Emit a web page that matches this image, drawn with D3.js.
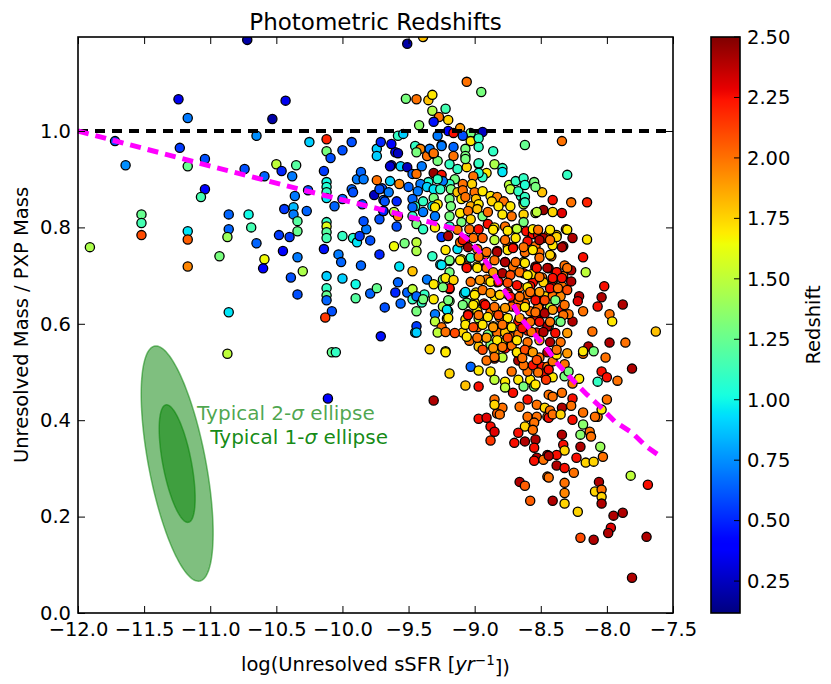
<!DOCTYPE html>
<html>
<head>
<meta charset="utf-8">
<script src="https://cdn.jsdelivr.net/npm/d3@7"></script>
<style>
body { margin: 0; background: #fff; }
svg text { font-family: "DejaVu Sans", sans-serif; }
</style>
</head>
<body>
<script>
// ---- data ----
// log(unresolved sSFR), one value per galaxy
var sSFR = [
  // sparse left part
  -10.72,-9.51,-11.24,-9.52,-9.44,-11.17,-10.43,-10.53,-11.72,-11.64,
  -11.23,-11.17,-11.04,-11.04,-11.07,-11.52,-11.52,-11.52,-11.91,-11.17,
  -11.17,-11.17,-10.86,-10.86,-10.87,-10.93,-10.86,-10.71,-10.69,-10.65,
  -10.59,-10.6,-10.65,-10.74,-10.59,-10.5,-10.46,-10.38,-10.35,-10.36,
  -10.26,-10.44,-10.37,-10.37,-10.34,-10.34,-10.48,-10.4,-10.45,-10.34,
  -10.3,-10.39,-10.34,-10.27,-10.25,-10.12,-10.12,-10.09,-10.14,-10.12,
  -10.12,-10.12,-10.12,-10.06,-10.0,-10.0,-9.93,-10.12,-10.12,-10.12,
  -10.12,-10.14,-10.03,-10.01,-10.0,-10.12,-10.12,-10.12,-10.12,-10.08,
  -10.13,-10.0,-9.92,-9.89,-9.86,-9.9,-9.9,-9.79,-9.74,-9.72,
  -9.68,-9.71,-10.87,-10.08,-10.05,-10.11,-9.45,-9.93,-9.92,-9.89,
  -9.86,-9.84,-9.85,-9.87,-9.82,-9.84,-9.79,-9.61,-9.74,-9.76,
  -9.7,-9.65,-9.69,-9.72,-9.69,-9.63,-9.6,-9.74,-9.74,-9.63,
  -9.59,
  // top of the cloud
  -9.39,-9.06,-8.95,-9.35,-9.32,-9.32,-9.22,-9.27,-9.2,-9.31,
  -9.42,-9.11,-9.2,-9.16,-9.03,-8.94,-9.09,-9.58,-9.03,-8.97,
  -8.97,-8.86,-8.62,-8.34,-8.3,-9.25,-9.16,-9.07,-9.07,-9.16,
  -9.45,-9.41,-9.44,-9.36,-9.31,-9.34,-9.64,-9.56,-9.51,-9.47,
  -9.44,-9.4,-9.31,-9.25,-9.28,-9.19,-9.13,-9.06,-8.97,-8.91,
  -8.85,-8.79,-8.79,-8.74,-8.69,-8.63,-8.55,-8.49,-8.65,-8.63,
  -8.41,-8.27,-8.15,-8.54,-8.48,-8.41,-8.34,-8.31,-8.15,-8.26,
  -8.33,-8.38,-8.18,-8.16,-8.02,-8.04,-7.88,-7.98,-8.21,-8.22,
  // upper core
  -9.28,-9.54,-9.71,-9.58,-9.25,-9.31,-9.07,-8.97,-8.94,-8.97,
  -9.01,-9.02,-9.09,-9.15,-9.19,-9.24,-9.28,-9.35,-9.41,-9.57,
  -9.64,-9.72,-9.5,-9.43,-9.36,-9.31,-9.26,-9.18,-9.13,-9.09,
  -9.0,-8.94,-8.88,-8.83,-8.78,-8.73,-8.67,-8.62,-8.54,-9.59,
  -9.68,-9.47,-9.45,-9.39,-9.31,-9.28,-9.32,-9.19,-9.18,-9.1,
  -9.07,-8.99,-9.03,-8.97,-8.87,-8.82,-8.73,-8.63,-8.53,-8.63,
  -9.69,-9.61,-9.58,-9.47,-9.47,-9.39,-9.3,-9.3,-9.19,-9.11,
  -9.05,-8.98,-8.94,-8.9,-8.79,-8.72,-9.44,-9.39,-9.3,-9.19,
  -9.1,-9.04,-8.97,-9.03,-8.9,-8.85,-8.77,-8.69,-8.61,-8.56,
  -9.53,-9.44,-9.44,-9.25,-9.2,-9.13,-9.07,-9.05,-9.11,-8.98,
  -8.92,-8.83,-8.75,-8.71,-8.6,-8.54,-9.32,-9.26,-9.19,-9.1,
  -9.06,-8.98,-8.91,-8.77,-8.71,-8.63,-8.54,-9.57,-9.47,-9.36,
  -9.31,-9.24,-9.19,-9.07,-8.99,-8.91,-8.83,-8.75,-8.66,-8.56,
  -9.58,-9.6,-9.51,-9.47,-9.38,
  // right of the core
  -8.62,-8.62,-8.63,-8.56,-8.52,-8.44,-8.48,-8.42,-8.41,-8.51,
  -8.42,-8.62,-8.32,-8.27,-8.44,-8.38,-8.54,-8.63,-8.57,-8.49,
  -8.41,-8.33,-8.27,-8.41,-8.58,-8.48,-8.41,-8.34,-8.57,-8.47,
  -8.41,-8.35,-8.07,-7.96,-8.18,-8.34,-8.43,-8.51,-8.62,-8.56,
  -8.48,-8.37,-8.26,-8.29,-8.44,-8.53,
  // lower core
  -9.56,-9.47,-9.44,-9.4,-9.44,-9.39,-9.31,-9.3,-9.24,-9.19,
  -9.2,-9.3,-9.21,-9.25,-9.28,-9.44,-9.44,-9.34,-9.22,-9.19,
  -9.31,-9.08,-9.06,-9.0,-8.93,-9.05,-8.98,-9.07,-8.97,-9.09,
  -8.98,-9.04,-8.97,-8.97,-8.9,-8.88,-8.85,-8.88,-8.83,-8.81,
  -8.86,-8.83,-8.77,-8.77,-8.79,-8.77,-8.79,-8.85,-8.91,-8.85,
  -8.67,-8.68,-8.72,-9.03,-8.97,-9.07,-8.97,-8.88,-8.85,-8.77,
  -8.77,-8.72,-8.67,-8.71,-8.63,-8.58,-8.55,-8.6,-8.56,-8.49,
  -8.48,-8.51,-8.58,-8.63,-8.72,-8.67,-8.6,-8.53,-8.62,-8.67,
  -8.58,-8.67,-8.6,-8.75,-8.72,-8.52,-8.45,-8.85,-8.79,-8.83,
  -8.85,-8.66,-8.6,-8.53,-8.47,-8.6,-8.53,-8.45,-8.55,-8.62,
  -8.56,-8.97,-8.91,-8.88,-8.85,-8.88,-8.67,-8.7,-8.62,-8.54,
  -8.55,-8.53,-8.55,-8.45,-8.48,
  // bottom right tail
  -8.81,-8.43,-8.44,-8.41,-8.44,-8.41,-8.34,-8.35,-8.26,-8.27,
  -8.26,-8.34,-8.33,-8.32,-8.38,-8.44,-8.38,-8.32,-8.25,-8.2,
  -8.2,-8.13,-8.12,-8.16,-8.1,-8.05,-8.03,-8.23,-8.18,-8.07,
  -8.0,-8.04,-8.09,-8.18,-8.26,-8.21,-8.34,-8.32,-8.41,-8.46,
  -8.54,-8.52,-8.45,-8.44,-8.41,-8.38,-8.32,-8.29,-8.18,-8.14,
  -8.1,-8.01,-8.04,-8.07,-8.0,-7.92,-7.98,-8.11,-8.18,-7.86,
  -7.81,-7.63,-8.45,-8.44,-8.32,-8.32,-8.41,-8.58,-8.32,-8.66,
  -8.62,-8.22,-8.06,-8.09,-8.04,-8.04,-8.04,-7.82,-7.69,-7.95,
  -7.88,-7.97,-7.99,-8.2,-8.1,-7.7,-7.81,
  // densest part of the core
  -9.13,-8.86,-8.75,-8.68,-8.52,-8.43,-8.38,-8.3,-9.09,-9.01,
  -8.94,-8.85,-8.77,-8.69,-8.51,-8.43,-8.34,-9.22,-8.91,-8.83,
  -8.75,-8.71,-8.63,-8.56,-8.43,-8.51,-9.19,-9.11,-9.03,-8.97,
  -8.85,-8.77,-8.69,-8.62,-8.53,-8.45,-8.38,-8.3,-9.25,-9.19,
  -9.06,-8.98,-8.91,-8.86,-8.79,-8.73,-8.66,-8.6,-8.51,-8.41,
  -8.34,-9.22,-9.16,-9.03,-8.96,-8.88,-8.82,-8.75,-8.68,-8.6,
  -8.58,-8.51,-8.43,-8.37,-8.3,-9.19,-9.24,-9.07,-9.0,-8.94,
  -8.88,-8.81,-8.73,-8.66,-8.54,-8.47,-8.39,-8.32,-9.2,-9.09,
  -9.01,-8.92,-8.85,-8.77,-8.68,-8.62,-8.54,-8.47,-8.41,-8.33,
  -9.21,-9.2,-9.05,-8.97,-8.9,-8.82,-8.75,-8.66,-8.58,-8.51,
  -8.43,-8.35,-9.07,-9.01,-8.94,-8.86,-8.79,-8.72,-8.64,-8.57,
  -8.48,-8.39,-8.3,-9.22,-9.15,-9.06,-8.98,-8.91,-8.83,-8.75,
  -8.68,-8.6,-8.51,-8.43,-8.35,-9.22,-8.94,-8.86,-8.79,-8.85,
  -8.68,-8.62,-8.56,-8.45,-8.38,-8.3,-8.64,-8.53
];

// unresolved mass / PXP mass
var massRatio = [
  1.189,1.181,1.066,1.067,1.066,1.027,1.063,1.025,0.979,0.929,
  0.965,0.927,0.942,0.879,0.863,0.827,0.809,0.784,0.759,0.792,
  0.775,0.719,0.827,0.796,0.78,0.74,0.624,0.827,0.8,0.767,
  0.734,0.715,0.99,0.921,0.906,0.931,0.917,0.906,0.929,0.865,
  0.877,0.838,0.842,0.827,0.813,0.792,0.784,0.78,0.751,0.738,
  0.709,0.696,0.661,0.834,0.977,0.983,0.958,0.944,0.917,0.894,
  0.884,0.873,0.861,0.844,0.859,0.96,0.977,0.811,0.802,0.79,
  0.778,0.755,0.744,0.728,0.694,0.699,0.674,0.659,0.649,0.626,
  0.613,0.782,0.778,0.769,0.721,0.682,0.653,0.663,0.674,0.744,
  0.634,0.574,0.538,0.541,0.541,0.445,0.582,0.879,0.873,0.9,
  0.915,0.9,0.848,0.782,0.796,0.813,0.773,0.761,0.898,0.867,
  0.881,0.873,0.857,0.817,0.834,0.929,0.956,0.963,0.948,0.973,
  0.802,
  1.195,1.102,1.081,1.064,1.075,1.042,1.046,1.029,1.023,1.019,
  1.012,1.006,1.0,0.996,0.996,0.998,0.99,0.99,0.979,0.985,
  0.967,0.958,0.971,0.979,0.909,0.971,0.967,0.963,0.948,0.948,
  0.969,0.963,0.956,0.948,0.952,0.963,0.927,0.927,0.925,0.911,
  0.911,0.927,0.913,0.909,0.938,0.931,0.921,0.925,0.931,0.913,
  0.931,0.923,0.915,0.888,0.896,0.902,0.894,0.873,0.865,0.852,
  0.857,0.852,0.852,0.83,0.836,0.832,0.83,0.796,0.775,0.778,
  0.761,0.784,0.738,0.707,0.678,0.655,0.64,0.62,0.657,0.647,
  0.99,0.994,0.977,0.954,0.969,0.954,0.942,0.933,0.904,0.913,
  0.906,0.89,0.89,0.9,0.89,0.896,0.9,0.894,0.89,0.89,
  0.896,0.879,0.884,0.875,0.884,0.879,0.879,0.879,0.873,0.877,
  0.873,0.875,0.865,0.863,0.854,0.879,0.875,0.863,0.884,0.854,
  0.854,0.859,0.844,0.854,0.861,0.848,0.844,0.859,0.844,0.859,
  0.863,0.859,0.844,0.848,0.854,0.844,0.844,0.848,0.832,0.827,
  0.834,0.832,0.823,0.842,0.823,0.832,0.842,0.823,0.823,0.83,
  0.834,0.838,0.823,0.832,0.827,0.823,0.807,0.796,0.8,0.802,
  0.811,0.796,0.796,0.817,0.807,0.8,0.802,0.796,0.792,0.786,
  0.767,0.769,0.751,0.78,0.782,0.755,0.775,0.759,0.769,0.755,
  0.744,0.751,0.761,0.759,0.771,0.761,0.74,0.723,0.73,0.734,
  0.719,0.719,0.719,0.728,0.719,0.728,0.719,0.719,0.709,0.692,
  0.682,0.692,0.672,0.665,0.665,0.692,0.686,0.665,0.676,0.686,
  0.686,0.665,0.665,0.672,0.661,
  0.888,0.852,0.811,0.796,0.784,0.786,0.778,0.773,0.763,0.748,
  0.74,0.748,0.721,0.711,0.715,0.707,0.717,0.705,0.703,0.696,
  0.688,0.699,0.688,0.692,0.678,0.686,0.676,0.678,0.663,0.657,
  0.657,0.657,0.636,0.605,0.626,0.63,0.634,0.642,0.642,0.624,
  0.624,0.607,0.605,0.62,0.595,0.609,
  0.642,0.651,0.657,0.644,0.626,0.651,0.651,0.62,0.636,0.647,
  0.626,0.605,0.611,0.593,0.582,0.595,0.582,0.547,0.543,0.497,
  0.441,0.663,0.644,0.644,0.642,0.62,0.626,0.609,0.611,0.582,
  0.593,0.565,0.568,0.553,0.578,0.557,0.657,0.624,0.626,0.613,
  0.595,0.582,0.595,0.582,0.561,0.549,0.53,0.528,0.524,0.541,
  0.524,0.541,0.555,0.511,0.503,0.472,0.47,0.501,0.484,0.48,
  0.468,0.501,0.484,0.457,0.47,0.484,0.47,0.501,0.514,0.511,
  0.497,0.53,0.543,0.514,0.572,0.578,0.586,0.582,0.603,0.605,
  0.626,0.647,0.661,0.661,0.636,0.634,0.595,0.443,0.426,0.414,
  0.432,0.428,0.443,0.432,0.426,0.407,0.407,0.407,0.395,0.387,
  0.38,0.403,0.405,0.387,0.376,0.358,0.374,0.353,0.356,0.36,
  0.343,0.322,0.316,0.328,0.318,
  0.412,0.42,0.405,0.412,0.453,0.449,0.426,0.412,0.445,0.43,
  0.401,0.37,0.349,0.337,0.328,0.326,0.306,0.301,0.291,0.345,
  0.37,0.376,0.366,0.312,0.314,0.345,0.324,0.322,0.391,0.407,
  0.443,0.422,0.407,0.416,0.476,0.486,0.457,0.491,0.489,0.484,
  0.474,0.499,0.511,0.505,0.522,0.536,0.516,0.501,0.538,0.553,
  0.543,0.53,0.501,0.48,0.489,0.482,0.561,0.584,0.543,0.561,
  0.507,0.584,0.283,0.281,0.27,0.249,0.233,0.233,0.227,0.272,
  0.264,0.21,0.272,0.252,0.256,0.241,0.227,0.285,0.266,0.202,
  0.208,0.177,0.166,0.156,0.152,0.158,0.073,
  0.795,0.795,0.793,0.797,0.795,0.795,0.78,0.795,0.774,0.778,
  0.778,0.774,0.774,0.778,0.774,0.774,0.759,0.753,0.749,0.749,
  0.753,0.757,0.759,0.753,0.743,0.737,0.732,0.732,0.737,0.739,
  0.732,0.728,0.728,0.726,0.716,0.716,0.707,0.716,0.722,0.707,
  0.716,0.716,0.716,0.707,0.705,0.701,0.707,0.701,0.697,0.695,
  0.695,0.695,0.691,0.687,0.691,0.687,0.687,0.685,0.68,0.676,
  0.666,0.666,0.674,0.674,0.67,0.674,0.676,0.666,0.66,0.67,
  0.664,0.66,0.656,0.656,0.649,0.649,0.649,0.639,0.649,0.639,
  0.639,0.639,0.635,0.633,0.633,0.635,0.624,0.622,0.629,0.618,
  0.629,0.612,0.618,0.618,0.614,0.618,0.612,0.612,0.604,0.604,
  0.604,0.604,0.598,0.593,0.598,0.593,0.598,0.593,0.591,0.583,
  0.583,0.581,0.581,0.583,0.581,0.573,0.571,0.571,0.566,0.571,
  0.566,0.562,0.566,0.562,0.562,0.541,0.546,0.55,0.552,0.531,
  0.541,0.546,0.541,0.541,0.546,0.539,0.529,0.525
];

// photometric redshift (colour)
var redshift = [
  0.2,0.2,0.35,1.3,2.0,0.7,0.35,0.2,0.6,0.75,
  0.55,1.25,0.6,0.4,1.15,1.25,1.15,2.1,1.45,0.95,
  2.05,1.95,0.65,0.65,1.4,1.3,0.95,1.0,1.15,0.65,
  1.65,0.4,0.75,0.6,0.65,1.5,0.5,0.7,1.2,0.7,
  0.6,0.55,0.85,0.7,1.2,1.25,0.55,0.55,0.4,0.7,
  1.45,0.6,0.6,0.65,0.9,2.2,1.3,0.6,0.55,1.0,
  1.05,1.1,0.95,0.65,0.65,0.6,0.6,1.1,1.6,1.2,
  1.15,0.45,0.7,0.65,0.9,0.9,1.1,1.25,0.65,0.6,
  2.15,1.1,1.05,0.95,0.65,1.0,1.2,0.65,1.25,0.5,
  0.6,0.45,1.5,1.25,1.1,0.4,0.95,0.65,0.6,0.7,
  0.65,0.7,0.6,0.55,0.7,0.6,0.6,1.65,2.0,0.25,
  0.6,0.7,0.65,0.6,0.7,0.3,0.4,0.9,0.9,0.4,
  0.6,
  1.8,2.0,1.3,1.8,1.7,1.45,1.15,2.0,1.75,0.45,
  1.35,1.9,0.4,2.25,1.3,0.25,0.6,1.1,1.7,1.1,
  1.1,1.1,1.25,2.0,1.1,0.7,0.65,1.3,1.3,2.0,
  1.1,1.95,1.3,2.0,0.7,0.7,0.3,0.9,0.25,0.65,
  2.0,0.7,2.45,2.25,1.3,1.1,1.1,1.75,1.3,1.7,
  1.45,1.1,0.95,1.5,1.1,1.1,1.3,1.8,1.1,0.95,
  2.25,2.0,2.2,1.5,2.45,1.75,2.3,2.0,1.7,2.4,
  2.45,1.75,2.25,1.5,2.25,2.4,2.4,2.0,2.4,2.3,
  0.7,0.9,0.5,0.25,0.7,2.0,1.3,1.1,1.1,1.05,
  2.0,1.75,2.0,1.3,1.1,0.7,1.1,1.05,0.7,1.95,
  0.9,0.6,0.65,0.7,0.9,0.95,1.1,1.3,1.8,2.0,
  2.0,1.7,1.7,1.95,2.0,1.5,1.1,1.1,1.3,0.5,
  0.6,0.65,1.1,1.1,1.3,1.7,0.95,1.3,1.3,1.7,
  2.0,1.8,1.85,1.7,1.75,1.7,1.7,1.5,1.5,1.75,
  0.5,1.5,1.95,0.65,1.1,0.7,1.7,0.7,1.3,1.7,
  2.0,1.8,1.3,2.0,1.7,2.0,1.3,1.1,1.7,1.1,
  1.3,2.0,2.25,1.75,2.25,1.7,2.0,1.5,2.25,2.25,
  1.3,1.5,1.45,0.55,2.4,0.95,2.4,2.45,2.0,2.0,
  2.05,2.25,2.0,2.25,2.25,2.0,1.1,0.95,1.3,1.7,
  2.0,1.7,2.25,2.4,2.0,1.7,2.25,0.95,1.8,0.7,
  1.7,1.3,2.4,0.95,1.7,2.0,2.4,2.25,2.0,2.25,
  0.65,0.5,0.65,1.5,1.1,
  1.05,1.1,1.3,1.7,2.25,2.0,2.4,2.0,1.7,2.0,
  2.0,2.0,2.0,2.4,2.4,2.25,2.25,2.25,1.75,2.0,
  2.05,2.0,2.4,1.3,2.25,1.75,2.25,2.0,2.0,1.75,
  2.0,1.95,2.25,1.7,2.0,2.25,1.5,2.0,2.0,2.0,
  2.4,1.1,2.4,2.0,1.3,2.25,
  0.65,1.1,0.65,1.1,1.3,1.3,1.7,0.7,1.45,1.3,
  1.1,1.5,1.7,2.0,1.5,0.55,0.9,1.75,1.5,1.75,
  2.4,0.95,1.3,1.7,2.25,2.25,1.7,1.75,1.5,1.75,
  2.0,2.0,1.7,1.8,1.3,1.35,1.7,2.0,1.7,2.0,
  1.75,2.0,2.0,1.8,1.7,2.25,1.5,2.25,2.0,1.75,
  2.4,1.8,2.0,0.65,1.7,1.8,2.25,1.7,1.5,1.7,
  1.5,2.0,1.7,2.25,1.3,1.7,1.3,2.0,2.25,2.25,
  2.25,2.0,2.0,2.0,2.0,2.0,2.25,2.25,2.4,2.25,
  2.0,2.0,2.0,2.0,2.05,2.0,2.4,2.0,2.0,2.05,
  1.75,2.0,2.25,2.0,1.75,2.0,2.0,2.0,2.0,1.75,
  2.0,2.25,2.3,2.25,2.3,2.15,2.25,2.25,2.4,2.4,
  2.25,2.4,2.25,2.4,2.0,
  2.0,2.0,2.25,2.0,2.0,2.0,2.4,1.75,2.25,2.0,
  2.25,2.4,2.25,1.75,2.25,2.4,2.4,2.25,2.0,2.4,
  1.35,2.0,2.0,1.75,1.75,1.4,2.0,2.25,1.35,2.0,
  2.0,1.7,2.0,2.0,2.0,1.7,2.0,1.3,1.7,2.15,
  1.7,2.0,2.0,2.25,2.0,1.7,2.0,1.3,2.0,2.4,
  1.3,2.0,2.25,1.1,2.25,2.0,2.4,2.0,1.7,2.0,
  2.4,1.8,2.0,2.0,2.0,1.95,2.4,2.05,1.75,2.4,
  2.05,1.75,2.4,1.75,2.0,1.75,2.4,1.5,2.25,2.4,
  2.4,2.3,2.4,2.1,2.4,2.4,2.4,
  2.0,1.7,1.7,1.5,2.0,1.7,1.75,1.7,2.25,2.0,
  2.05,1.5,2.0,1.7,2.4,2.0,2.4,1.7,2.0,2.4,
  1.7,2.25,2.0,1.7,1.75,2.0,1.3,1.7,1.1,2.0,
  2.0,2.4,2.0,1.7,2.25,2.4,2.25,2.0,0.95,1.3,
  2.25,1.7,2.0,1.9,2.4,2.1,2.0,1.7,2.0,2.25,
  2.25,1.7,1.75,2.0,1.9,1.7,2.25,2.1,2.25,1.7,
  2.0,1.9,2.25,2.0,2.1,2.25,1.3,0.95,1.7,2.0,
  1.9,1.75,2.25,2.0,2.25,2.1,1.3,2.0,1.3,1.3,
  1.7,2.25,2.0,1.9,2.1,1.7,2.0,2.4,1.9,2.0,
  0.95,1.7,2.25,2.0,1.7,2.1,1.7,1.9,2.0,2.25,
  2.0,1.3,1.7,2.1,1.7,1.9,2.0,1.7,2.25,2.0,
  2.4,2.25,1.9,2.0,2.1,1.7,2.0,1.9,1.7,2.1,
  1.7,2.0,1.9,2.4,2.0,1.7,2.1,1.9,2.0,2.0,
  1.7,2.1,1.9,2.4,2.0,1.9,2.0,2.1
];

// magenta dashed trend
var trendSSFR  = [-12, -11.08, -10.32, -9.72, -9.34, -9.15, -9.035, -8.96, -8.88, -8.81, -8.73, -8.66, -8.56, -8.45, -8.37, -8.26, -8.15, -8.05, -7.94, -7.81, -7.7, -7.59];
var trendRatio = [1.0, 0.933, 0.879, 0.838, 0.811, 0.797, 0.771, 0.748, 0.715, 0.682, 0.651, 0.615, 0.582, 0.547, 0.516, 0.484, 0.453, 0.428, 0.397, 0.374, 0.345, 0.324];

// error ellipse: centre, 1-sigma widths and correlation
var ellipseCentre = [-11.25, 0.31];
var ellipseSigma = [0.136, 0.122];
var ellipseRho = -0.59;
var ellipseLevels = [2, 1];
var ellipseLabels = ["Typical 2-", "Typical 1-"];
var ellipseLabelPos = [[-11.1, 0.4], [-11.0, 0.35]];

var xTicks = [-12, -11.5, -11, -10.5, -10, -9.5, -9, -8.5, -8, -7.5];
var yTicks = [0, 0.2, 0.4, 0.6, 0.8, 1.0];
var colorTicks = [0.25, 0.5, 0.75, 1.0, 1.25, 1.5, 1.75, 2.0, 2.25, 2.5];
var colorRange = [0.118, 2.5];

// ---- drawing ----
var W = 831, H = 684;
var margin = {left: 78, top: 37, right: 158, bottom: 71};
var width = W - margin.left - margin.right;   // 595
var height = H - margin.top - margin.bottom;  // 576

var svg = d3.select("body").append("svg")
    .attr("width", W)
    .attr("height", H);

var g = svg.append("g")
    .attr("transform", "translate(" + margin.left + "," + margin.top + ")");

var x = d3.scaleLinear().domain([-12, -7.5]).range([0, width]);
var y = d3.scaleLinear().domain([0, 1.195]).range([height, 0]);

// matplotlib "jet"
var jetR = d3.scaleLinear().domain([0, 0.35, 0.66, 0.89, 1]).range([0, 0, 1, 1, 0.5]).clamp(true);
var jetG = d3.scaleLinear().domain([0, 0.125, 0.375, 0.64, 0.91, 1]).range([0, 0, 1, 1, 0, 0]).clamp(true);
var jetB = d3.scaleLinear().domain([0, 0.11, 0.34, 0.65, 1]).range([0.5, 1, 1, 0, 0]).clamp(true);
function jet(t) {
    return d3.rgb(255 * jetR(t), 255 * jetG(t), 255 * jetB(t)).toString();
}
var zNorm = d3.scaleLinear().domain(colorRange).range([0, 1]).clamp(true);

var n = Math.min(sSFR.length, massRatio.length, redshift.length);
if (sSFR.length !== massRatio.length || sSFR.length !== redshift.length) {
    console.log("length mismatch", sSFR.length, massRatio.length, redshift.length);
}
var points = d3.range(n).map(function (i) {
    return {x: sSFR[i], y: massRatio[i], z: redshift[i]};
});

svg.append("defs").append("clipPath").attr("id", "plotClip")
    .append("rect").attr("width", width).attr("height", height);

// error ellipses
function ellipsePoints(k) {
    return d3.range(0, 2 * Math.PI, Math.PI / 90).map(function (t) {
        var c = Math.cos(t), s = Math.sin(t);
        return [ellipseCentre[0] + ellipseSigma[0] * k * c,
                ellipseCentre[1] + ellipseSigma[1] * k * (ellipseRho * c + Math.sqrt(1 - ellipseRho * ellipseRho) * s)];
    });
}
var pathLine = d3.line()
    .x(function (d) { return x(d[0]); })
    .y(function (d) { return y(d[1]); });

g.append("g").selectAll("path")
    .data(ellipseLevels)
    .enter()
    .append("path")
    .attr("d", function (k) { return pathLine.curve(d3.curveLinearClosed)(ellipsePoints(k)); })
    .attr("fill", "green")
    .attr("fill-opacity", 0.5)
    .attr("stroke", "green")
    .attr("stroke-opacity", 0.5)
    .attr("stroke-width", 1.5);
pathLine.curve(d3.curveLinear);

var labels = g.append("g").selectAll("text")
    .data(ellipseLabels)
    .enter()
    .append("text")
    .attr("x", function (d, i) { return x(ellipseLabelPos[i][0]); })
    .attr("y", function (d, i) { return y(ellipseLabelPos[i][1]); })
    .attr("fill", "green")
    .attr("fill-opacity", function (d, i) { return i === 0 ? 0.7 : 0.92; })
    .style("font-size", "20px");
labels.append("tspan").text(function (d) { return d; });
labels.append("tspan").style("font-style", "italic").text("\u03c3");
labels.append("tspan").text(" ellipse");

// scatter
g.append("g")
    .attr("clip-path", "url(#plotClip)")
    .selectAll("circle")
    .data(points)
    .enter()
    .append("circle")
    .attr("cx", function (d) { return x(d.x); })
    .attr("cy", function (d) { return y(d.y); })
    .attr("r", 4.6)
    .attr("fill", function (d) { return jet(zNorm(d.z)); })
    .attr("stroke", "#000")
    .attr("stroke-width", 1.3);

// reference lines
g.append("path")
    .datum([[-12, 1], [-7.5, 1]])
    .attr("d", pathLine)
    .attr("fill", "none")
    .attr("stroke", "#000")
    .attr("stroke-width", 4)
    .attr("stroke-dasharray", "10,7");

g.append("path")
    .datum(trendSSFR.map(function (v, i) { return [v, trendRatio[i]]; }))
    .attr("d", pathLine)
    .attr("fill", "none")
    .attr("stroke", "#ff00ff")
    .attr("stroke-width", 5)
    .attr("stroke-dasharray", "11,7");

// axes, ticks pointing in
var fmt1 = d3.format(".1f");
g.append("g")
    .attr("transform", "translate(0," + height + ")")
    .call(d3.axisBottom(x).tickValues(xTicks).tickFormat(fmt1).tickSizeInner(-7).tickSizeOuter(0).tickPadding(9));
g.append("g")
    .call(d3.axisLeft(y).tickValues(yTicks).tickFormat(fmt1).tickSizeInner(-7).tickSizeOuter(0).tickPadding(7));
g.append("g")
    .call(d3.axisTop(x).tickValues(xTicks).tickFormat("").tickSizeInner(-7).tickSizeOuter(0));
g.append("g")
    .attr("transform", "translate(" + width + ",0)")
    .call(d3.axisRight(y).tickValues(yTicks).tickFormat("").tickSizeInner(-7).tickSizeOuter(0));
g.selectAll(".domain").remove();
g.selectAll(".tick line").attr("stroke", "#000").attr("stroke-width", 1);
g.selectAll(".tick text")
    .attr("fill", "#000")
    .style("font-family", "DejaVu Sans, sans-serif")
    .style("font-size", "19.5px");

g.append("rect")
    .attr("width", width)
    .attr("height", height)
    .attr("fill", "none")
    .attr("stroke", "#000")
    .attr("stroke-width", 1.6);

// titles
svg.append("text")
    .attr("x", margin.left + width / 2)
    .attr("y", 30)
    .attr("text-anchor", "middle")
    .style("font-size", "23px")
    .text("Photometric Redshifts");

var xLabel = svg.append("text")
    .attr("x", margin.left + width / 2)
    .attr("y", 671)
    .attr("text-anchor", "middle")
    .style("font-size", "19.5px");
xLabel.append("tspan").text("log(Unresolved sSFR [");
xLabel.append("tspan").style("font-style", "italic").text("yr");
xLabel.append("tspan").attr("dy", "-0.45em").style("font-size", "13.5px").text("\u22121");
xLabel.append("tspan").attr("dy", "0.45em").text("])");

svg.append("text")
    .attr("transform", "translate(28," + (margin.top + height / 2) + ") rotate(-90)")
    .attr("text-anchor", "middle")
    .style("font-size", "19.5px")
    .text("Unresolved Mass / PXP Mass");

// colour bar
var cbX = 711, cbW = 29;
var cz = d3.scaleLinear().domain(colorRange).range([margin.top + height, margin.top]);

var grad = svg.select("defs").append("linearGradient")
    .attr("id", "jetGrad")
    .attr("x1", 0).attr("y1", 1).attr("x2", 0).attr("y2", 0);
grad.selectAll("stop")
    .data(d3.range(0, 1.0001, 0.01))
    .enter()
    .append("stop")
    .attr("offset", function (d) { return d; })
    .attr("stop-color", function (d) { return jet(d); });

svg.append("rect")
    .attr("x", cbX)
    .attr("y", margin.top)
    .attr("width", cbW)
    .attr("height", height)
    .attr("fill", "url(#jetGrad)");

var cbTicks = svg.append("g").selectAll("g")
    .data(colorTicks)
    .enter()
    .append("g")
    .attr("transform", function (d) { return "translate(0," + cz(d) + ")"; });
cbTicks.append("line")
    .attr("x1", cbX + cbW - 6)
    .attr("x2", cbX + cbW)
    .attr("stroke", "#000")
    .attr("stroke-width", 1);
cbTicks.append("text")
    .attr("x", cbX + cbW + 7)
    .attr("dy", "0.35em")
    .style("font-size", "19.5px")
    .text(function (d) { return d3.format(".2f")(d); });

svg.append("rect")
    .attr("x", cbX)
    .attr("y", margin.top)
    .attr("width", cbW)
    .attr("height", height)
    .attr("fill", "none")
    .attr("stroke", "#000")
    .attr("stroke-width", 1.6);

svg.append("text")
    .attr("transform", "translate(820," + (margin.top + height / 2) + ") rotate(-90)")
    .attr("text-anchor", "middle")
    .style("font-size", "19.5px")
    .text("Redshift");
</script>
</body>
</html>
